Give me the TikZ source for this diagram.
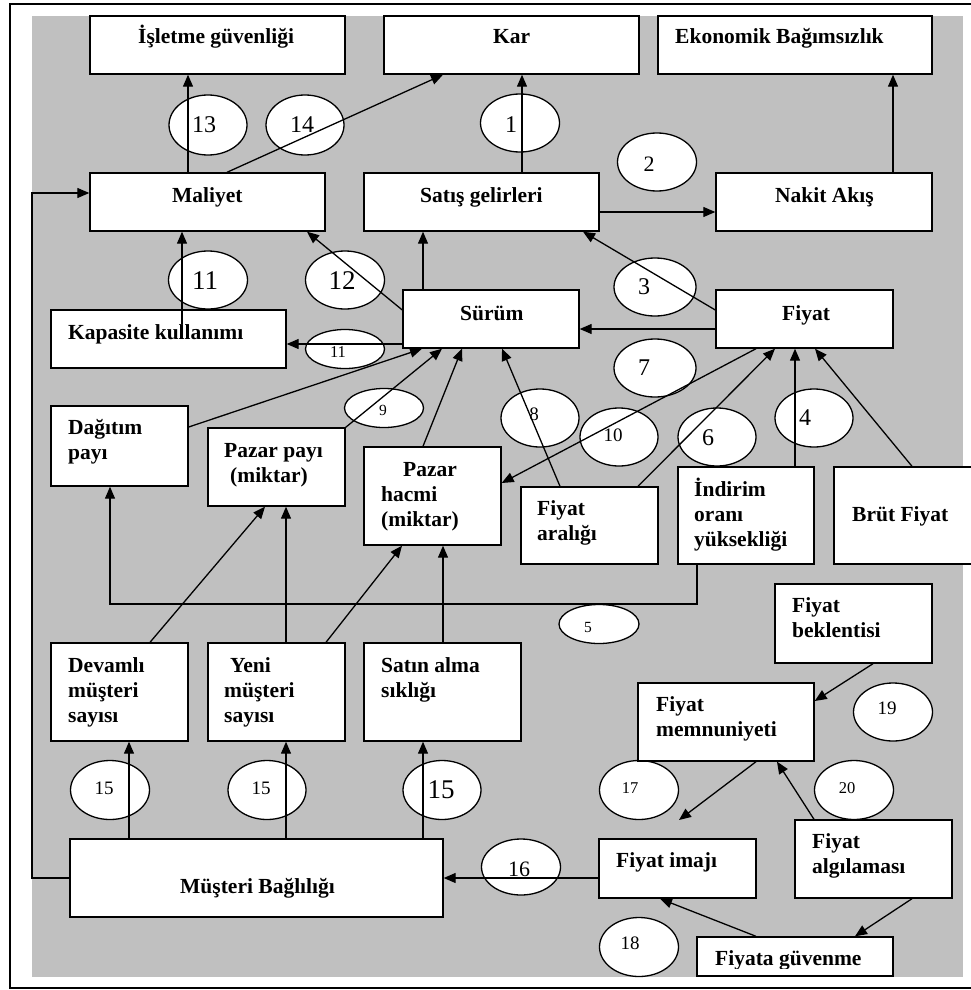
\documentclass[tikz,border=0pt]{standalone}
\usepackage{fontspec}
\setmainfont{Liberation Serif}
\usetikzlibrary{arrows.meta,shapes.geometric}
\definecolor{bggray}{RGB}{192,192,192}
\newcommand\mlines[1]{\begin{tabular}[t]{@{}l@{}}#1\end{tabular}}
\newcommand\bx[5]{%
  \pgfmathsetmacro\mybw{#4-#2}\pgfmathsetmacro\mybh{#5-#3}%
  \pgfmathsetmacro\mybcx{(#2+#4)/2}\pgfmathsetmacro\mybcy{(#3+#5)/2}%
  \node[box, minimum width=\mybw pt, minimum height=\mybh pt] (#1) at (\mybcx,\mybcy) {};}
\newcommand\el[5]{%
  \pgfmathsetmacro\myew{2*#4}\pgfmathsetmacro\myeh{2*#5}%
  \node[ell, minimum width=\myew pt, minimum height=\myeh pt] (#1) at (#2,#3) {};}
\begin{document}
\begin{tikzpicture}[x=1pt,y=-1pt,
  box/.style={draw, fill=white, line width=1.4pt, inner sep=0pt, rectangle},
  ell/.style={draw, fill=white, ellipse, line width=1.3pt, inner sep=0pt},
  arr/.style={-{Triangle[length=12pt,width=10pt]}, line width=1.3pt},
  lbl/.style={anchor=base west, inner sep=0pt, font=\fontsize{21.5}{25}\selectfont\bfseries},
  num/.style={inner sep=0pt, anchor=center},
  numb/.style={num, font=\fontsize{24}{28}\selectfont},
  numB/.style={num, font=\fontsize{27}{30}\selectfont},
  nums/.style={num, font=\fontsize{19}{22}\selectfont},
  numt/.style={num, font=\fontsize{16.5}{19}\selectfont}]
\useasboundingbox (0,0) rectangle (971,990);
% frame and background
\draw[line width=2pt] (10,4) rectangle (980,988);
\fill[bggray] (32,16) rectangle (963,977);

% ellipses
\el{e13}{208}{125}{39}{30}
\el{e14}{305}{125}{39}{30}
\el{e1}{520}{123}{39.5}{29}
\el{e2}{657}{162}{39.5}{29}
\el{e11b}{208}{280}{39.5}{29}
\el{e12}{345}{280}{39.5}{29}
\el{e11s}{345}{349}{39.5}{19.5}
\el{e9}{384}{408}{39.5}{19.5}
\el{e3}{655}{287}{41}{29}
\el{e7}{655}{368}{41}{29}
\el{e8}{540}{418}{39}{29}
\el{e10}{619}{437}{39}{29}
\el{e6}{717}{437}{39}{29}
\el{e4}{814}{418}{39}{29}
\el{e5}{599}{624}{40}{19.5}
\el{e19}{893}{712}{39.5}{29}
\el{e15a}{110}{790}{39.5}{29.5}
\el{e15b}{267}{790}{39}{29.5}
\el{e15c}{442}{790}{39}{29.5}
\el{e16}{521}{867}{39.5}{28}
\el{e17}{639}{790}{39.5}{29.5}
\el{e20}{854}{790}{39.5}{29.5}
\el{e18}{639}{947}{39.5}{29.5}

% ellipse numbers
\node[numb] (n13) at (204,125) {13};
\node[numb] (n14) at (302,125) {14};
\node[numb] (n1) at (511,125) {1};
\node[num, font=\fontsize{22}{26}\selectfont] (n2) at (649,164) {2};
\node[numB] (n11b) at (205,281) {11};
\node[numB] (n12) at (342,281) {12};
\node[numt] (n11s) at (338,352) {11};
\node[num, font=\fontsize{15.5}{18}\selectfont] (n9) at (383,410) {9};
\node[numb] (n3) at (644,287) {3};
\node[numb] (n7) at (644,368) {7};
\node[nums] (n8) at (534,414) {8};
\node[nums] (n10) at (613,435) {10};
\node[numb] (n6) at (708,438) {6};
\node[numb] (n4) at (805,418) {4};
\begin{scope}
\clip (560,620) rectangle (640,644);
\node[inner sep=0pt, anchor=base, font=\fontsize{15.5}{18}\selectfont] (n5) at (588,632) {5};
\end{scope}
\node[nums] (n19) at (887,708) {19};
\node[nums] (n15a) at (104,788) {15};
\node[nums] (n15b) at (261,788) {15};
\node[numB] (n15c) at (441,790) {15};
\node[num, font=\fontsize{22}{26}\selectfont] (n16) at (519,869) {16};
\node[numt] (n17) at (630,788) {17};
\node[numt] (n20) at (847,788) {20};
\node[nums] (n18) at (630,943) {18};

% boxes
\bx{isletme}{90}{16}{345}{74}
\bx{kar}{384}{16}{639}{74}
\bx{ekonomik}{658}{16}{932}{74}
\bx{maliyet}{90}{173}{325}{231}
\bx{satis}{364}{173}{599}{231}
\bx{nakit}{716}{173}{932}{231}
\bx{kapasite}{51}{310}{286}{368}
\bx{surum}{403}{290}{579}{348}
\bx{fiyat}{716}{290}{893}{348}
\bx{dagitim}{51}{406}{188}{486}
\bx{pazarpayi}{208}{428}{345}{506}
\bx{pazarhacmi}{364}{447}{501}{545}
\bx{aralik}{521}{487}{658}{564}
\bx{indirim}{678}{467}{814}{564}
\bx{brut}{834}{467}{990}{564}
\bx{beklenti}{775}{584}{932}{663}
\bx{memnun}{638}{683}{814}{761}
\bx{devamli}{51}{643}{188}{741}
\bx{yeni}{208}{643}{345}{741}
\bx{satin}{364}{643}{521}{741}
\bx{musteri}{70}{839}{443}{917}
\bx{imaj}{599}{839}{756}{898}
\bx{algilama}{795}{820}{952}{898}
\bx{guvenme}{697}{937}{893}{976}

% box texts
\node[lbl] (tisletme) at (138,44) {İşletme güvenliği};
\node[lbl] (tkar) at (493,44) {Kar};
\node[lbl] (tekonomik) at (675,44) {Ekonomik Bağımsızlık};
\node[lbl] (tmaliyet) at (172,202) {Maliyet};
\node[lbl] (tsatis) at (420,202) {Satış gelirleri};
\node[lbl] (tnakit) at (775,202) {Nakit Akış};
\node[lbl] (tkapasite) at (68,339) {Kapasite kullanımı};
\node[lbl] (tsurum) at (460,320) {Sürüm};
\node[lbl] (tfiyat) at (782,320) {Fiyat};
\node[lbl] (tdagitim) at (68,434) {\mlines{Dağıtım\\payı}};
\node[lbl] (tpazarpayi) at (224,457) {\mlines{Pazar payı\\\hspace{6pt}(miktar)}};
\node[lbl] (tpazarhacmi) at (381,476) {\mlines{\hspace{22pt}Pazar\\hacmi\\(miktar)}};
\node[lbl] (taralik) at (537,515) {\mlines{Fiyat\\aralığı}};
\node[lbl] (tindirim) at (694,496) {\mlines{İndirim\\oranı\\yüksekliği}};
\node[lbl] (tbrut) at (852,521) {Brüt Fiyat};
\node[lbl] (tbeklenti) at (792,612) {\mlines{Fiyat\\beklentisi}};
\node[lbl] (tmemnun) at (656,711) {\mlines{Fiyat\\memnuniyeti}};
\node[lbl] (tdevamli) at (68,672) {\mlines{Devamlı\\müşteri\\sayısı}};
\node[lbl] (tyeni) at (224,672) {\mlines{\hspace{6pt}Yeni\\müşteri\\sayısı}};
\node[lbl] (tsatin) at (381,672) {\mlines{Satın alma\\sıklığı}};
\node[lbl] (tmusteri) at (180,893) {Müşteri Bağlılığı};
\node[lbl] (timaj) at (616,867) {Fiyat imajı};
\node[lbl] (talgilama) at (812,848) {\mlines{Fiyat\\algılaması}};
\begin{scope}
\clip (697,937) rectangle (893,968);
\node[lbl] (tguvenme) at (715,965) {Fiyata güvenme};
\end{scope}

\coordinate (c17) at (679,820);

% connectors
\draw[arr] (188,0 |- maliyet.north) -- (188,0 |- isletme.south);
\draw[arr] (227,0 |- maliyet.north) -- (443,0 |- kar.south);
\draw[arr] (522,0 |- satis.north) -- (522,0 |- kar.south);
\draw[arr] (satis.east |- 0,212) -- (nakit.west |- 0,212);
\draw[arr] (893,0 |- nakit.north) -- (893,0 |- ekonomik.south);
\draw[arr] ([yshift=-15pt]182,0 |- kapasite.north) -- (182,0 |- maliyet.south);
\draw[arr] (surum.west |- 0,310) -- (307,0 |- maliyet.south);
\draw[arr] (423,0 |- surum.north) -- (423,0 |- satis.south);
\draw[arr] (fiyat.west |- 0,310) -- (583,0 |- satis.south);
\draw[arr] (fiyat.west |- 0,329) -- (surum.east |- 0,329);
\draw[arr] (surum.west |- 0,344) -- (kapasite.east |- 0,344);
\draw[arr] (dagitim.east |- 0,427) -- (422,0 |- surum.south);
\draw[arr] (pazarpayi.north east) -- (442,0 |- surum.south);
\draw[arr] (423,0 |- pazarhacmi.north) -- (462,0 |- surum.south);
\draw[arr] (560,0 |- aralik.north) -- (502,0 |- surum.south);
\draw[arr] (756,0 |- fiyat.south) -- (pazarhacmi.east |- 0,483);
\draw[arr] (638,0 |- aralik.north) -- (775,0 |- fiyat.south);
\draw[arr] (795,0 |- indirim.north) -- (795,0 |- fiyat.south);
\draw[arr] (912,0 |- brut.north) -- (815,0 |- fiyat.south);
\draw[arr] (697,0 |- indirim.south) -- (697,604) -| (110,0 |- dagitim.south);
\draw[arr] (150,0 |- devamli.north) -- (265,0 |- pazarpayi.south);
\draw[arr] (286,0 |- yeni.north) -- (286,0 |- pazarpayi.south);
\draw[arr] (326,0 |- yeni.north) -- (402,0 |- pazarhacmi.south);
\draw[arr] (443,0 |- satin.north) -- (443,0 |- pazarhacmi.south);
\draw[arr] (129,0 |- musteri.north) -- (129,0 |- devamli.south);
\draw[arr] (286,0 |- musteri.north) -- (286,0 |- yeni.south);
\draw[arr] (423,0 |- musteri.north) -- (423,0 |- satin.south);
\draw[arr] (musteri.west |- 0,878) -- (32,878) |- (maliyet.west |- 0,193);
\draw[arr] (imaj.west |- 0,878) -- (musteri.east |- 0,878);
\draw[arr] (873,0 |- beklenti.south) -- (memnun.east |- 0,701);
\draw[arr] (756,0 |- memnun.south) -- (c17);
\draw[arr] (814,0 |- algilama.north) -- (777,0 |- memnun.south);
\draw[arr] (912,0 |- algilama.south) -- (855,0 |- guvenme.north);
\draw[arr] (756,0 |- guvenme.north) -- (660,0 |- imaj.south);
\end{tikzpicture}
\end{document}
